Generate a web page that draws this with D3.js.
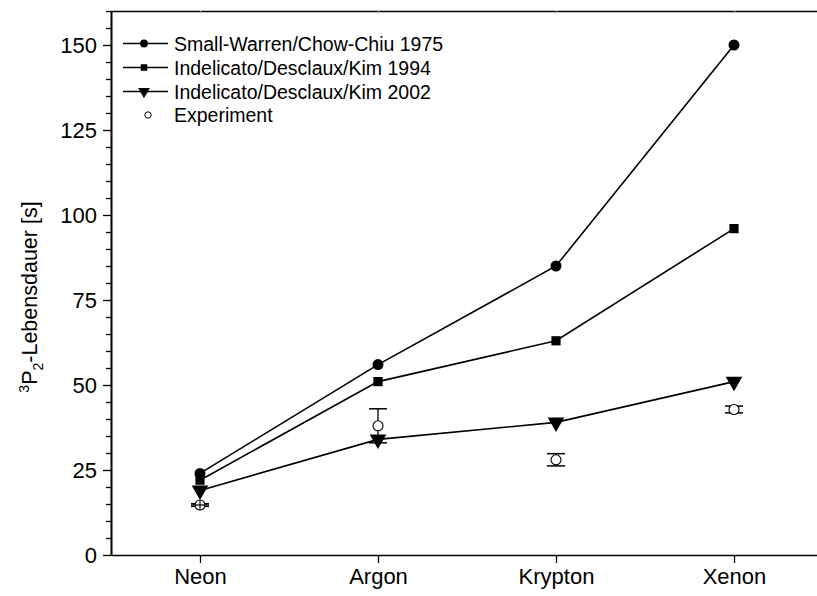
<!DOCTYPE html>
<html>
<head>
<meta charset="utf-8">
<script src="https://cdn.jsdelivr.net/npm/d3@7"></script>
<style>
  html, body { margin: 0; padding: 0; background: #fff; }
  svg { display: block; font-family: "Liberation Sans", Arial, sans-serif; }
</style>
</head>
<body>
<svg id="chart" width="817" height="596"></svg>
<script>
// Elements (x categories)
const elements = ["Neon", "Argon", "Krypton", "Xenon"];

// Theoretical lifetimes [s]
const smallWarren1975 = [24, 56, 85, 150];
const indelicato1994 = [22, 51, 63, 96];
const indelicato2002 = [19, 34, 39, 51];

// Measured lifetimes [s] and their uncertainties
const experiment = [14.7, 38, 28, 42.8];
const experimentErr = [0.4, 5, 1.8, 1];

const yTicks = [0, 25, 50, 75, 100, 125, 150];

const legendLabels = [
  "Small-Warren/Chow-Chiu 1975",
  "Indelicato/Desclaux/Kim 1994",
  "Indelicato/Desclaux/Kim 2002",
  "Experiment"
];

const svg = d3.select("#chart");
const plotLeft = 111, plotTop = 11, plotBottom = 555, plotRight = 823;

const x = d3.scaleLinear().domain([0.5, 4.5]).range([plotLeft, plotRight]);
const y = d3.scaleLinear().domain([0, 160]).range([plotBottom, plotTop]);

// Axes
const gx = svg.append("g").attr("transform", `translate(0,${plotBottom})`)
  .call(d3.axisBottom(x).tickValues([1, 2, 3, 4])
    .tickFormat(d => elements[d - 1]).tickSize(8).tickSizeOuter(0).tickPadding(5));
gx.selectAll("text").attr("font-size", 22).attr("font-family", "Liberation Sans, Arial, sans-serif").attr("fill", "#000");

const gxTop = svg.append("g").attr("transform", `translate(0,${plotTop})`)
  .call(d3.axisTop(x).tickValues([1, 2, 3, 4]).tickSize(-2).tickSizeOuter(0).tickFormat(""));
gxTop.selectAll(".tick line").attr("stroke", "#999");

const gyMinor = svg.append("g").attr("transform", `translate(${plotLeft},0)`)
  .call(d3.axisLeft(y).tickValues(d3.range(0, 161, 5).filter(v => v % 25 !== 0))
    .tickSize(5).tickFormat("").tickSizeOuter(0));

const gy = svg.append("g").attr("transform", `translate(${plotLeft},0)`)
  .call(d3.axisLeft(y).tickValues(yTicks).tickSize(8).tickSizeOuter(0).tickPadding(6));
gy.selectAll("text").attr("font-size", 22).attr("font-family", "Liberation Sans, Arial, sans-serif").attr("fill", "#000");

svg.selectAll(".domain").attr("stroke", "#000").attr("stroke-width", 1.6);
svg.selectAll(".tick line").attr("stroke-width", 1.3);

// Y axis title
const title = svg.append("text")
  .attr("transform", `translate(37,${(plotTop + plotBottom) / 2 + 14}) rotate(-90)`)
  .attr("text-anchor", "middle")
  .attr("font-size", 21.5)
  .attr("fill", "#000");
title.append("tspan").attr("font-size", 14).attr("dy", -8).text("3");
title.append("tspan").attr("dy", 8).text("P");
title.append("tspan").attr("font-size", 14).attr("dy", 6).text("2");
title.append("tspan").attr("dy", -6).text("-Lebensdauer [s]");

// Marker shapes
const markerSym = [d3.symbolCircle, d3.symbolSquare, d3.symbolTriangle];
const markerSize = [95, 85, 120];
const seriesData = [smallWarren1975, indelicato1994, indelicato2002];

const line = d3.line().x((d, i) => x(i + 1)).y(d => y(d));

seriesData.forEach(vals => {
  svg.append("path").datum(vals)
    .attr("d", line).attr("fill", "none")
    .attr("stroke", "#000").attr("stroke-width", 1.6);
});

seriesData.forEach((vals, s) => {
  svg.append("g").selectAll("path").data(vals).join("path")
    .attr("transform", (d, i) => `translate(${x(i + 1)},${y(d)})${s === 2 ? " rotate(180)" : ""}`)
    .attr("d", d3.symbol().type(markerSym[s]).size(markerSize[s]))
    .attr("fill", "#000");
});

// Experimental points with error bars
const eb = svg.append("g");
experiment.forEach((v, i) => {
  const cx = x(i + 1), e = experimentErr[i];
  const g = eb.append("g");
  g.append("line").attr("x1", cx).attr("x2", cx).attr("y1", y(v + e)).attr("y2", y(v - e))
    .attr("stroke", "#000").attr("stroke-width", 1.3);
  [v + e, v - e].forEach(b => {
    g.append("line").attr("x1", cx - 9).attr("x2", cx + 9).attr("y1", y(b)).attr("y2", y(b))
      .attr("stroke", "#000").attr("stroke-width", 1.5);
  });
  g.append("circle").attr("cx", cx).attr("cy", y(v)).attr("r", 5)
    .attr("fill", "#fff").attr("stroke", "#000").attr("stroke-width", 1.1);
  if (i === 0) {
    // small uncertainty: the bar shows through the open marker
    g.append("line").attr("x1", cx).attr("x2", cx).attr("y1", y(v) - 5).attr("y2", y(v) + 5)
      .attr("stroke", "#000").attr("stroke-width", 1.1);
    g.append("line").attr("x1", cx - 9).attr("x2", cx + 9).attr("y1", y(v)).attr("y2", y(v))
      .attr("stroke", "#000").attr("stroke-width", 1.3);
  }
});

// Legend
const lg = svg.append("g");
const rowY = [43.5, 67.5, 91.5, 115];
legendLabels.forEach((lab, i) => {
  const yy = rowY[i];
  if (i < 3) {
    lg.append("line").attr("x1", 123).attr("x2", 168).attr("y1", yy).attr("y2", yy)
      .attr("stroke", "#000").attr("stroke-width", 1.6);
    lg.append("path")
      .attr("transform", `translate(144,${yy})${i === 2 ? " rotate(180)" : ""}`)
      .attr("d", d3.symbol().type(markerSym[i]).size(markerSize[i] * 0.5))
      .attr("fill", "#000");
  } else {
    lg.append("circle").attr("cx", 148).attr("cy", yy).attr("r", 3.2)
      .attr("fill", "#fff").attr("stroke", "#000").attr("stroke-width", 1);
  }
  lg.append("text").attr("x", 174).attr("y", yy).attr("dy", "0.36em")
    .attr("font-size", 19.5).attr("fill", "#000").text(lab);
});
</script>
</body>
</html>
